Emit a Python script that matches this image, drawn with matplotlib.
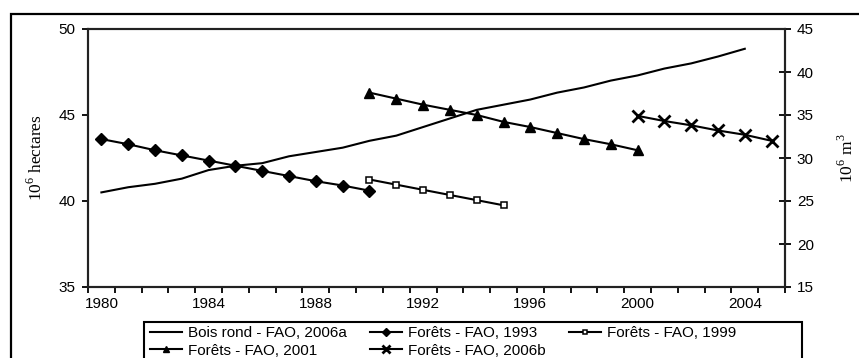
import matplotlib
matplotlib.use("Agg")
import matplotlib.pyplot as plt
from matplotlib.patches import Rectangle
from matplotlib.ticker import MultipleLocator, FixedLocator

plt.rcParams["font.family"] = ["Liberation Sans", "DejaVu Sans"]
plt.rcParams["mathtext.fontset"] = "custom"
plt.rcParams["mathtext.rm"] = "Liberation Serif"

# Bois rond (10^6 m3, right axis)
years_bois = list(range(1980, 2005))
bois_rond = [26.0, 26.6, 27.0, 27.6, 28.6, 29.1, 29.4, 30.2, 30.7, 31.2,
             32.0, 32.6, 33.6, 34.6, 35.6, 36.2, 36.8, 37.6, 38.2, 39.0,
             39.6, 40.4, 41.0, 41.8, 42.7]

# Forêts (10^6 hectares, left axis)
years_1993 = list(range(1980, 1991))
forets_1993 = [43.6, 43.3, 42.95, 42.65, 42.35, 42.05, 41.75, 41.45, 41.15, 40.9, 40.6]

years_1999 = list(range(1990, 1996))
forets_1999 = [41.25, 40.95, 40.65, 40.35, 40.05, 39.75]

years_2001 = list(range(1990, 2001))
forets_2001 = [46.3, 45.95, 45.6, 45.3, 45.0, 44.6, 44.3, 43.95, 43.6, 43.3, 42.95]

years_2006 = list(range(2000, 2006))
forets_2006 = [44.95, 44.65, 44.4, 44.1, 43.85, 43.5]

xtick_labels = [1980, 1984, 1988, 1992, 1996, 2000, 2004]

W, H = 859, 358
fig = plt.figure(figsize=(W / 100, H / 100), dpi=100)
ax = fig.add_axes([88 / W, 1 - 287 / H, (785 - 88) / W, (287 - 29) / H])
ax2 = ax.twinx()

lw = 1.5
h1, = ax2.plot(years_bois, bois_rond, color="black", lw=lw, label="Bois rond - FAO, 2006a")
h2, = ax.plot(years_1993, forets_1993, color="black", lw=lw, marker="D", ms=6,
              label="Forêts - FAO, 1993")
h3, = ax.plot(years_1999, forets_1999, color="black", lw=lw, marker="s", ms=4,
              mfc="white", mew=1.1, label="Forêts - FAO, 1999")
h4, = ax.plot(years_2001, forets_2001, color="black", lw=lw, marker="^", ms=7,
              label="Forêts - FAO, 2001")
h5, = ax.plot(years_2006, forets_2006, color="black", lw=lw, marker="x", ms=8.5,
              mew=2, label="Forêts - FAO, 2006b")

ax.set_xlim(1979.5, 2005.5)
ax.set_ylim(35, 50)
ax2.set_ylim(15, 45)

ax.xaxis.set_major_locator(FixedLocator(xtick_labels))
ax.xaxis.set_minor_locator(FixedLocator([y + 0.5 for y in range(1979, 2006)]))
ax.tick_params(axis="x", which="major", length=0, pad=7, labelsize=11)
ax.tick_params(axis="x", which="minor", length=4, width=1.3, direction="out")
ax.yaxis.set_major_locator(MultipleLocator(5))
ax.tick_params(axis="y", length=4, width=1.3, direction="out", labelsize=11, pad=5)
ax2.yaxis.set_major_locator(MultipleLocator(5))
ax2.tick_params(axis="y", length=9, width=1.3, direction="inout", labelsize=11, pad=4)

for a in (ax, ax2):
    for s in a.spines.values():
        s.set_linewidth(1.5)
        s.set_color("#222222")

ax.set_ylabel("10$^6$ hectares", family="Liberation Serif", fontsize=12.5, labelpad=9)
ax2.set_ylabel("10$^6$ m$^3$", family="Liberation Serif", fontsize=12.5, labelpad=17)

# legend drawn row by row like the original (ncol fills columns first)
order = [h1, h4, h2, h5, h3]
leg = fig.legend(order, [h.get_label() for h in order],
                 ncol=3, loc="upper left",
                 bbox_to_anchor=(150 / W, 1 - 326 / H),
                 fontsize=11, frameon=False, borderpad=0, borderaxespad=0,
                 handlelength=2.1, handletextpad=0.4, markerscale=0.65,
                 columnspacing=1.5, labelspacing=0.25)

# legend box and outer frame, both running past the bottom edge
fig.patches.append(Rectangle((144 / W, -0.2), (802 - 144) / W, 1 - 322 / H + 0.2,
                             transform=fig.transFigure, fill=False,
                             edgecolor="black", lw=1.5))
fig.patches.append(Rectangle((10.5 / W, -0.2), 1.0, 1 - 14 / H + 0.2,
                             transform=fig.transFigure, fill=False,
                             edgecolor="black", lw=1.6))

fig.savefig("out.png", dpi=100)
